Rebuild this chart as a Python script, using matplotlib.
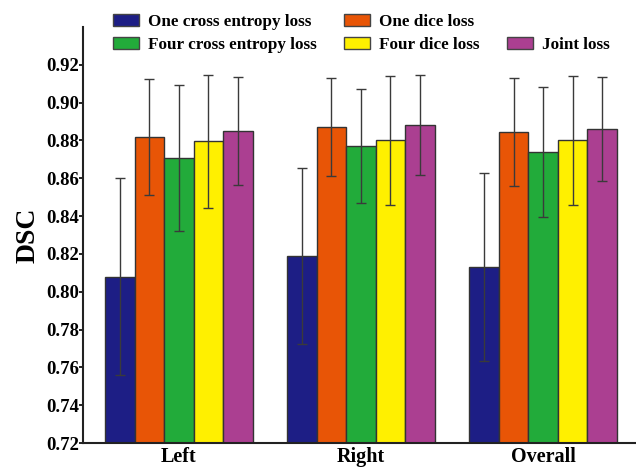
import numpy as np
import matplotlib.pyplot as plt
from matplotlib.patches import Patch

plt.rcParams['font.family'] = ['Liberation Serif', 'DejaVu Serif']
plt.rcParams['font.weight'] = 'bold'

# DSC means and std per region for each loss setting
regions = ['Left', 'Right', 'Overall']
methods = ['One cross entropy loss', 'One dice loss', 'Four cross entropy loss',
           'Four dice loss', 'Joint loss']
colors = ['#1d1e85', '#e85506', '#22ab3a', '#fff000', '#ab3f91']

one_ce = [0.808, 0.819, 0.813]
one_dice = [0.882, 0.887, 0.8845]
four_ce = [0.8707, 0.877, 0.874]
four_dice = [0.8795, 0.880, 0.880]
joint = [0.885, 0.888, 0.8863]

one_ce_sd = [0.052, 0.0465, 0.0497]
one_dice_sd = [0.0307, 0.026, 0.0287]
four_ce_sd = [0.0387, 0.030, 0.0345]
four_dice_sd = [0.035, 0.034, 0.0343]
joint_sd = [0.0288, 0.0265, 0.0275]

means = [one_ce, one_dice, four_ce, four_dice, joint]
sds = [one_ce_sd, one_dice_sd, four_ce_sd, four_dice_sd, joint_sd]

x = np.arange(len(regions))
width = 0.162

fig = plt.figure(figsize=(6.36, 4.69), dpi=100)
ax = fig.add_axes([0.1305, 0.0554, 0.8695, 0.887])

for i in range(len(methods)):
    pos = x + (i - 2) * width
    ax.bar(pos, means[i], width, color=colors[i], edgecolor='#333333', linewidth=1.0,
           label=methods[i], zorder=2)
    ax.errorbar(pos, means[i], yerr=sds[i], fmt='none', ecolor='#3a3a3a',
                elinewidth=1.0, capsize=3.6, capthick=1.0, zorder=3)

ax.set_ylim(0.72, 0.94)
ax.set_xlim(-0.526, 2.51)
ax.set_yticks(np.arange(0.72, 0.921, 0.02))
ax.set_yticklabels(['%.2f' % v for v in np.arange(0.72, 0.921, 0.02)])
ax.set_xticks(x)
ax.set_xticklabels(regions)
ax.tick_params(axis='x', length=0, labelsize=14.5, pad=3)
ax.tick_params(axis='y', direction='out', length=3, width=1.2, labelsize=13.5, pad=0)
ax.set_ylabel('DSC', fontsize=20, fontweight='bold', labelpad=4)

for s in ['top', 'right']:
    ax.spines[s].set_visible(False)
for s in ['left', 'bottom']:
    ax.spines[s].set_linewidth(1.5)
    ax.spines[s].set_color('#222222')

# legend filled column by column; blank slot keeps Joint loss on the second row
blank = Patch(facecolor='none', edgecolor='none')
order = [0, 2, 1, 3, None, 4]
handles = [blank if k is None else Patch(facecolor=colors[k], edgecolor='#444444', linewidth=1.0)
           for k in order]
labels = ['' if k is None else methods[k] for k in order]
fig.legend(handles, labels, ncol=3, loc='upper left', bbox_to_anchor=(0.1777, 0.970),
           frameon=False, fontsize=12.3, handlelength=1.52, handleheight=0.7,
           columnspacing=1.6, handletextpad=0.53, labelspacing=0.42,
           borderpad=0, borderaxespad=0)

plt.savefig('out.png', dpi=100)
